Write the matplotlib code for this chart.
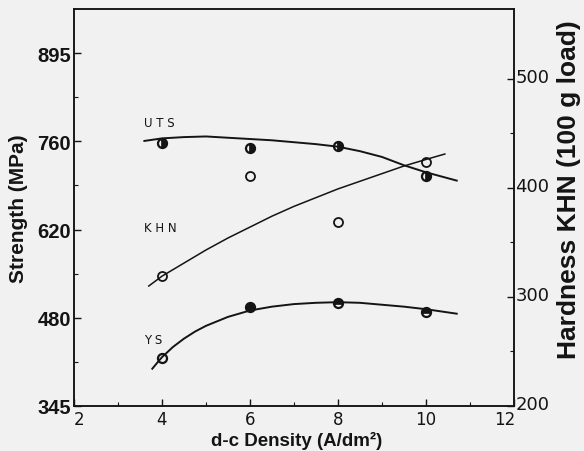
import numpy as np
from matplotlib import pyplot as plt
from matplotlib.ticker import FixedLocator
import matplotlib.transforms as mtransforms

# measured points
density = [4, 6, 8, 10]
uts = [756, 748, 751, 704]          # MPa
ys = [420, 499, 506, 491]           # MPa
khn = [319, 411, 369, 424]          # KHN

# fitted curves
uts_curve_x = [3.6, 4.0, 4.5, 5.0, 5.5, 6.0, 6.5, 7.0, 7.5, 8.0, 8.5, 9.0, 9.5, 10.0, 10.7]
uts_curve_y = [759, 763, 765, 766, 764, 762, 760, 757, 754, 750, 743, 734, 721, 710, 697]
ys_curve_x = [3.78, 3.9, 4.0, 4.25, 4.5, 4.75, 5.0, 5.5, 6.0, 6.5, 7.0, 7.5, 8.0, 8.5, 9.0, 9.5, 10.0, 10.7]
ys_curve_y = [403, 413, 421, 437, 450, 461, 470, 484, 494, 500, 504, 506, 507, 506, 503, 500, 496, 489]
khn_curve_x = [3.7, 4.0, 4.5, 5.0, 5.5, 6.0, 6.5, 7.0, 7.5, 8.0, 8.5, 9.0, 9.5, 10.0, 10.43]
khn_curve_y = [310, 319, 331, 343, 354, 364, 374, 383, 391, 399, 406, 413, 420, 426, 431]

# strength axis labels (equally spaced in ksi on the original)
ksi_ticks = [50, 70, 90, 110, 130]
mpa_labels = ["345", "480", "620", "760", "895"]
khn_ticks = [200, 300, 400, 500]
x_ticks = [2, 4, 6, 8, 10, 12]

KSI = 6.895
ink = "#141414"

fig = plt.figure(figsize=(5.84, 4.52), dpi=100, facecolor="#f1f1f1")
ax = fig.add_axes([0.1267, 0.0996, 0.7533, 0.8784])
ax.set_facecolor("#f1f1f1")
ax2 = ax.twinx()

ax.set_xlim(2, 12)
ax.set_ylim(50 * KSI, 140 * KSI)
ax2.set_ylim(200, 564)

ax.plot(uts_curve_x, uts_curve_y, color=ink, lw=1.4)
ax.plot(ys_curve_x, ys_curve_y, color=ink, lw=1.4)
ax2.plot(khn_curve_x, khn_curve_y, color=ink, lw=1.1)

mk = dict(color=ink, markersize=6.5, markeredgewidth=1.6, linestyle="none",
          markerfacecoloralt="none")
ax.plot(density, uts, "o", fillstyle="right", **mk)
ax.plot(density[:1], ys[:1], "o", markerfacecolor="none", **mk)
ax.plot(density[1:2], ys[1:2], "o", **mk)
ax.plot(density[2:], ys[2:], "o", fillstyle="top", **mk)
ax2.plot(density, khn, "o", color=ink, markersize=6.5, markeredgewidth=1.3,
         linestyle="none", markerfacecolor="none")

lab_kw = dict(fontsize=8.5, color=ink, fontfamily="DejaVu Sans")
ax.text(3.6, 782, "U T S", **lab_kw)
ax.text(3.6, 618, "K H N", **lab_kw)
ax.text(3.6, 443, "Y S", **lab_kw)

ax.yaxis.set_major_locator(FixedLocator([k * KSI for k in ksi_ticks]))
ax.yaxis.set_minor_locator(FixedLocator([k * KSI for k in range(60, 140, 20)]))
ax.set_yticklabels(mpa_labels)
ax.xaxis.set_major_locator(FixedLocator(x_ticks))
ax.xaxis.set_minor_locator(FixedLocator([3, 5, 7, 9, 11]))
ax2.yaxis.set_major_locator(FixedLocator(khn_ticks))
ax2.yaxis.set_minor_locator(FixedLocator([250, 350, 450]))

for a in (ax, ax2):
    a.tick_params(which="both", direction="in", color=ink)
    a.tick_params(which="major", length=5, width=1)
    a.tick_params(which="minor", length=3, width=0.8)
    for s in a.spines.values():
        s.set_color(ink)
        s.set_linewidth(1.1)

for lab in ax.get_yticklabels():
    lab.set_fontfamily("Liberation Sans")
    lab.set_fontweight("bold")
    lab.set_fontsize(14.5)
    lab.set_color(ink)
ax.tick_params(axis="y", pad=2)
for lab in ax.get_xticklabels():
    lab.set_fontsize(12)
    lab.set_color(ink)
ax.tick_params(axis="x", pad=3)
for lab in ax2.get_yticklabels():
    lab.set_fontsize(13)
    lab.set_color(ink)
ax2.tick_params(axis="y", pad=1)

# nudge the corner labels as on the original
xl = ax.get_xticklabels()
xl[0].set_transform(xl[0].get_transform() + mtransforms.ScaledTranslation(5 / 100, 0, fig.dpi_scale_trans))
xl[-1].set_transform(xl[-1].get_transform() + mtransforms.ScaledTranslation(-9 / 100, 0, fig.dpi_scale_trans))
for lab in ax2.get_yticklabels():
    lab.set_transform(lab.get_transform() + mtransforms.ScaledTranslation(0, 4 / 100, fig.dpi_scale_trans))

ax.set_xlabel("d-c Density (A/dm²)", fontsize=13.5, fontweight="bold",
              fontfamily="Liberation Sans", color=ink)
ax.xaxis.set_label_coords(0.507, -0.064)
ax.set_ylabel("Strength (MPa)", fontsize=15, fontweight="bold",
              fontfamily="Liberation Sans", color=ink)
ax.yaxis.set_label_coords(-0.105, 0.50)
ax2.set_ylabel("Hardness KHN (100 g load)", fontsize=19, fontweight="bold",
               fontfamily="Liberation Sans", color=ink)
ax2.yaxis.set_label_coords(1.098, 0.547)

fig.savefig("out.png", dpi=100, facecolor=fig.get_facecolor())
